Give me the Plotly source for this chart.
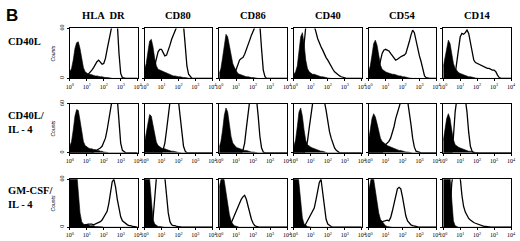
import plotly.graph_objects as go

# ---------------- data ----------------
log_fluor = [0.0, 0.1, 0.2, 0.3, 0.4, 0.5, 0.6, 0.7, 0.8, 0.9,
             1.0, 1.1, 1.2, 1.3, 1.4, 1.5, 1.6, 1.7, 1.8, 1.9,
             2.0, 2.1, 2.2, 2.3, 2.4, 2.5, 2.6, 2.7, 2.8, 2.9,
             3.0, 3.1, 3.2, 3.3, 3.4, 3.5, 3.6, 3.7, 3.8, 3.9, 4.0]

conditions = ["CD40L", "CD40L/<br>IL - 4", "GM-CSF/<br>IL - 4"]
markers = ["HLA  DR", "CD80", "CD86", "CD40", "CD54", "CD14"]
x_tick_vals = [0, 1, 2, 3, 4]
x_tick_text = ["10<sup>0</sup>", "10<sup>1</sup>", "10<sup>2</sup>", "10<sup>3</sup>", "10<sup>4</sup>"]
y_tick_vals = [0, 60]
y_tick_text = ["0", "60"]

# Row 1: CD40L
cd40l_hladr_iso = [8,12,22,36,43,44,36,24,13,8, 6,5,5,4,4,3,3,2,2,2, 1,1,1,1,0.5,0,0,0,0,0, 0,0,0,0,0,0,0,0,0,0,0]
cd40l_hladr_ab  = [0,0,0,0,0,0,0,0,0,0, 3,5,7,10,13,17,20,22,20,17, 18,24,35,50,62,70,75,72,66,30, 6,1,0,0,0,0,0,0,0,0,0]
cd40l_cd80_iso  = [10,18,32,45,47,38,24,15,11,10, 9,8,7,6,5,5,4,3,3,2, 2,2,1,1,1,0.5,0,0,0,0, 0,0,0,0,0,0,0,0,0,0,0]
cd40l_cd80_ab   = [0,0,0,0,0,0,15,25,32,35, 35,31,27,28,33,40,47,53,58,62, 68,72,70,64,40,15,5,2,0,0, 0,0,0,0,0,0,0,0,0,0,0]
cd40l_cd86_iso  = [6,12,25,42,53,50,38,26,18,13, 9,6,5,4,3,3,2,2,1,1, 1,0.5,0,0,0,0,0,0,0,0, 0,0,0,0,0,0,0,0,0,0,0]
cd40l_cd86_ab   = [0,0,0,0,0,0,0,0,0,5, 10,17,22,24,25,29,34,40,46,52, 58,63,66,68,64,35,10,2,0,0, 0,0,0,0,0,0,0,0,0,0,0]
cd40l_cd40_iso  = [5,8,15,30,50,55,42,22,12,8, 6,5,5,4,3,3,2,2,1,1, 0.5,0,0,0,0,0,0,0,0,0, 0,0,0,0,0,0,0,0,0,0,0]
cd40l_cd40_ab   = [0,0,0,0,0,20,45,62,70,75, 74,70,64,56,48,42,38,34,29,25, 22,18,14,11,8,6,4,3,2,1, 0.5,0,0,0,0,0,0,0,0,0,0]
cd40l_cd54_iso  = [8,15,28,42,46,40,28,16,11,9, 8,7,6,6,5,5,4,4,3,3, 2,2,1,1,0.5,0,0,0,0,0, 0,0,0,0,0,0,0,0,0,0,0]
cd40l_cd54_ab   = [0,0,0,0,0,0,12,22,30,34, 35,34,33,30,27,24,22,23,25,26, 27,28,30,36,44,52,58,55,45,35, 27,20,10,3,1,0,0,0,0,0,0]
cd40l_cd14_iso  = [14,25,38,46,42,30,18,12,9,7, 6,5,4,3,3,2,2,1,1,0.5, 0,0,0,0,0,0,0,0,0,0, 0,0,0,0,0,0,0,0,0,0,0]
cd40l_cd14_ab   = [0,0,0,0,0,0,0,5,20,40, 50,54,53,55,58,54,42,30,22,19, 18,17,16,15,14,13,12,12,11,10, 10,8,4,1,0,0,0,0,0,0,0]

# Row 2: CD40L/IL-4
cd40lil4_hladr_iso = [8,14,28,45,53,52,40,25,14,9, 7,6,5,5,4,4,3,3,2,2, 1,1,0.5,0,0,0,0,0,0,0, 0,0,0,0,0,0,0,0,0,0,0]
cd40lil4_hladr_ab  = [0,0,0,0,0,0,0,0,0,0, 0,0,0,0,1,2,3,4,6,8, 12,18,28,40,55,66,72,72,66,40, 12,3,1,0,0,0,0,0,0,0,0]
cd40lil4_cd80_iso  = [12,22,36,47,45,34,22,13,9,7, 6,5,5,4,3,3,2,2,1,1, 0.5,0,0,0,0,0,0,0,0,0, 0,0,0,0,0,0,0,0,0,0,0]
cd40lil4_cd80_ab   = [0,0,0,0,0,0,0,0,0,0, 0,4,12,28,48,62,70,74,74,70, 64,45,22,8,2,0,0,0,0,0, 0,0,0,0,0,0,0,0,0,0,0]
cd40lil4_cd86_iso  = [7,14,28,46,55,50,35,20,12,9, 7,6,5,5,4,3,3,2,2,1, 1,0.5,0,0,0,0,0,0,0,0, 0,0,0,0,0,0,0,0,0,0,0]
cd40lil4_cd86_ab   = [0,0,0,0,0,0,0,0,0,0, 0,0,0,0,3,12,30,50,64,72, 74,72,66,45,20,6,1,0,0,0, 0,0,0,0,0,0,0,0,0,0,0]
cd40lil4_cd40_iso  = [8,16,32,50,55,45,28,15,10,8, 7,6,5,4,3,3,2,2,1,0.5, 0,0,0,0,0,0,0,0,0,0, 0,0,0,0,0,0,0,0,0,0,0]
cd40lil4_cd40_ab   = [0,0,0,0,0,0,0,4,14,30, 48,60,68,72,74,74,72,68,63,52, 38,26,18,11,6,3,1,0,0,0, 0,0,0,0,0,0,0,0,0,0,0]
cd40lil4_cd54_iso  = [15,28,42,48,44,36,26,18,14,12, 10,9,8,7,6,5,5,4,3,3, 2,2,1,1,0.5,0,0,0,0,0, 0,0,0,0,0,0,0,0,0,0,0]
cd40lil4_cd54_ab   = [0,0,0,0,0,0,0,0,0,8, 10,12,14,18,24,32,42,52,60,66, 70,72,70,64,52,35,18,7,2,1, 0,0,0,0,0,0,0,0,0,0,0]
cd40lil4_cd14_iso  = [15,28,42,48,42,28,16,10,8,7, 6,5,4,4,3,2,2,1,1,0.5, 0,0,0,0,0,0,0,0,0,0, 0,0,0,0,0,0,0,0,0,0,0]
cd40lil4_cd14_ab   = [0,0,0,0,0,0,20,50,66,72, 74,74,72,66,50,25,8,2,0,0, 0,0,0,0,0,0,0,0,0,0, 0,0,0,0,0,0,0,0,0,0,0]

# Row 3: GM-CSF/IL-4
gmcsf_hladr_iso = [75,85,90,85,70,45,18,7,4,3, 3,3,2,2,2,1,1,1,1,0.5, 0,0,0,0,0,0,0,0,0,0, 0,0,0,0,0,0,0,0,0,0,0]
gmcsf_hladr_ab  = [0,0,0,0,0,0,0,0,0,3, 4,4,4,4,3,4,4,5,7,9, 13,16,20,30,45,57,60,50,35,22, 13,8,6,4,3,2,2,1,1,0.5,0]
gmcsf_cd80_iso  = [80,90,85,60,30,10,4,2,1,1, 0.5,0,0,0,0,0,0,0,0,0, 0,0,0,0,0,0,0,0,0,0, 0,0,0,0,0,0,0,0,0,0,0]
gmcsf_cd80_ab   = [0,0,0,0,0,10,40,62,72,75, 75,72,62,40,18,7,3,2,2,1, 0.5,0,0,0,0,0,0,0,0,0, 0,0,0,0,0,0,0,0,0,0,0]
gmcsf_cd86_iso  = [50,65,68,58,42,28,16,8,4,2, 1,0.5,0,0,0,0,0,0,0,0, 0,0,0,0,0,0,0,0,0,0, 0,0,0,0,0,0,0,0,0,0,0]
gmcsf_cd86_ab   = [0,0,0,0,0,0,0,5,10,16, 22,27,31,35,38,40,35,26,17,10, 5,2,1,0,0,0,0,0,0,0, 0,0,0,0,0,0,0,0,0,0,0]
gmcsf_cd40_iso  = [70,80,75,55,30,12,4,2,1,0.5, 0,0,0,0,0,0,0,0,0,0, 0,0,0,0,0,0,0,0,0,0, 0,0,0,0,0,0,0,0,0,0,0]
gmcsf_cd40_ab   = [0,0,0,0,0,0,0,4,8,12, 16,19,24,34,46,56,60,45,24,10, 4,2,1,0,0,0,0,0,0,0, 0,0,0,0,0,0,0,0,0,0,0]
gmcsf_cd54_iso  = [45,62,66,60,45,30,18,10,7,4, 2,1,0.5,0,0,0,0,0,0,0, 0,0,0,0,0,0,0,0,0,0, 0,0,0,0,0,0,0,0,0,0,0]
gmcsf_cd54_ab   = [0,0,0,0,0,0,0,0,7,8, 8,9,8,12,20,30,40,48,50,48, 38,24,14,8,5,3,2,1,1,0.5, 0,0,0,0,0,0,0,0,0,0,0]
gmcsf_cd14_iso  = [75,85,72,80,62,30,8,2,0.5,0, 0,0,0,0,0,0,0,0,0,0, 0,0,0,0,0,0,0,0,0,0, 0,0,0,0,0,0,0,0,0,0,0]
gmcsf_cd14_ab   = [0,0,0,0,20,55,70,74,75,72, 62,40,26,19,14,11,9,7,6,5, 4,3,3,2,1,1,0.5,0,0,0, 0,0,0,0,0,0,0,0,0,0,0]

isotype = [
    [cd40l_hladr_iso, cd40l_cd80_iso, cd40l_cd86_iso, cd40l_cd40_iso, cd40l_cd54_iso, cd40l_cd14_iso],
    [cd40lil4_hladr_iso, cd40lil4_cd80_iso, cd40lil4_cd86_iso, cd40lil4_cd40_iso, cd40lil4_cd54_iso, cd40lil4_cd14_iso],
    [gmcsf_hladr_iso, gmcsf_cd80_iso, gmcsf_cd86_iso, gmcsf_cd40_iso, gmcsf_cd54_iso, gmcsf_cd14_iso],
]
stained = [
    [cd40l_hladr_ab, cd40l_cd80_ab, cd40l_cd86_ab, cd40l_cd40_ab, cd40l_cd54_ab, cd40l_cd14_ab],
    [cd40lil4_hladr_ab, cd40lil4_cd80_ab, cd40lil4_cd86_ab, cd40lil4_cd40_ab, cd40lil4_cd54_ab, cd40lil4_cd14_ab],
    [gmcsf_hladr_ab, gmcsf_cd80_ab, gmcsf_cd86_ab, gmcsf_cd40_ab, gmcsf_cd54_ab, gmcsf_cd14_ab],
]
for r in range(3):
    for c in range(6):
        assert len(isotype[r][c]) == 41 and len(stained[r][c]) == 41, (r, c)

# ---------------- layout ----------------
W, H = 520, 241
col_left = [67, 143, 219, 295, 371, 447]
panel_w = 69
row_box = [(25, 76), (102, 152), (179, 228)]
serif = "Liberation Serif"

fig = go.Figure()
layout = {}
for r in range(3):
    for c in range(6):
        n = r * 6 + c + 1
        xa = "x" if n == 1 else f"x{n}"
        ya = "y" if n == 1 else f"y{n}"
        fig.add_trace(go.Scatter(
            x=log_fluor, y=isotype[r][c], xaxis=xa, yaxis=ya,
            mode="lines", fill="tozeroy", fillcolor="black",
            line=dict(color="black", width=0.6), showlegend=False, hoverinfo="skip"))
        fig.add_trace(go.Scatter(
            x=log_fluor, y=stained[r][c], xaxis=xa, yaxis=ya,
            mode="lines", line=dict(color="black", width=1.3),
            showlegend=False, hoverinfo="skip"))
        top, bot = row_box[r]
        L = col_left[c]
        layout["xaxis" if n == 1 else f"xaxis{n}"] = dict(
            domain=[L / W, (L + panel_w) / W], range=[0, 4], anchor=ya,
            showline=True, linecolor="black", linewidth=1, mirror=True,
            showgrid=False, zeroline=False, ticks="outside", ticklen=2,
            tickcolor="black", tickwidth=0.8,
            tickvals=x_tick_vals, ticktext=x_tick_text,
            tickfont=dict(family=serif, size=6, color="black"))
        layout["yaxis" if n == 1 else f"yaxis{n}"] = dict(
            domain=[(H - bot) / H, (H - top) / H], range=[0, 60], anchor=xa,
            showline=True, linecolor="black", linewidth=1, mirror=True,
            showgrid=False, zeroline=False, ticks="outside", ticklen=2,
            tickcolor="black", tickwidth=0.8,
            tickvals=y_tick_vals, ticktext=y_tick_text, tickangle=-90,
            showticklabels=(c == 0),
            tickfont=dict(family=serif, size=6, color="black"))

annotations = []
annotations.append(dict(text="<b>B</b>", x=0, y=1, xref="paper", yref="paper",
                        xanchor="left", yanchor="top", showarrow=False,
                        font=dict(family="Liberation Sans", size=17, color="black")))
for c, m in enumerate(markers):
    annotations.append(dict(text=f"<b>{m}</b>", x=(col_left[c] + panel_w / 2) / W,
                            y=1 - 12 / H, xref="paper", yref="paper",
                            xanchor="center", yanchor="middle", showarrow=False,
                            font=dict(family=serif, size=10.5, color="black")))
row_label_y = [38, 121, 198]
for r, lab in enumerate(conditions):
    annotations.append(dict(text=f"<b>{lab}</b>", x=2 / W, y=1 - row_label_y[r] / H,
                            xref="paper", yref="paper", xanchor="left", yanchor="middle",
                            align="left", showarrow=False,
                            font=dict(family=serif, size=10.5, color="black")))
    top, bot = row_box[r]
    annotations.append(dict(text="<i>Counts</i>", x=50 / W, y=1 - (top + bot) / 2 / H,
                            xref="paper", yref="paper", xanchor="center", yanchor="middle",
                            textangle=-90, showarrow=False,
                            font=dict(family="Liberation Sans", size=5, color="black")))

fig.update_layout(width=W, height=H, margin=dict(l=0, r=0, t=0, b=0),
                  paper_bgcolor="white", plot_bgcolor="white",
                  annotations=annotations, **layout)
fig.write_html("out.html", config={"displayModeBar": False},
               post_script="document.body.style.margin='0';document.body.style.padding='0';document.body.style.overflow='hidden';")
